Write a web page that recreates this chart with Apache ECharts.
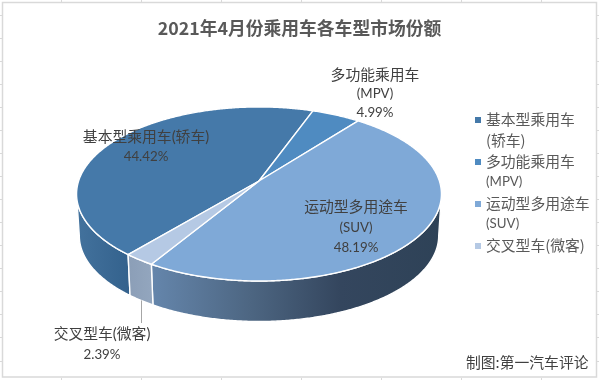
<!DOCTYPE html>
<html><head><meta charset="utf-8">
<style>html,body{margin:0;padding:0;background:#fff}#c{width:599px;height:380px}</style>
<script src="https://cdn.jsdelivr.net/npm/echarts@6/dist/echarts.min.js"></script>
</head><body><div id="c"></div>
<script>
const chartTitle = '2021年4月份乘用车各车型市场份额';
const credit = '制图:第一汽车评论';
const categories = ['基本型乘用车(轿车)', '多功能乘用车(MPV)', '运动型多用途车(SUV)', '交叉型车(微客)'];
const shares = [44.42, 4.99, 48.19, 2.39];
const nameLines = [['基本型乘用车(轿车)'], ['多功能乘用车', '(MPV)'], ['运动型多用途车', '(SUV)'], ['交叉型车(微客)']];
const legendLines = [['基本型乘用车', '(轿车)'], ['多功能乘用车', '(MPV)'], ['运动型多用途车', '(SUV)'], ['交叉型车(微客)', ' ']];
const topColors = ['#4579A9', '#4F8BC1', '#7FA9D7', '#B5C9E4'];
const firstAngle = 220;

// layout of the tilted disc (perspective model)
const geo = {cx: 259, cy: 181, A: 85.1, B: 180.4, k: 0.149, depth: 42, baseScale: 0.985};
const visibleFrom = 98.6, visibleTo = 261.4;
const wallStops = [
  [[76, '#43729D'], [128, '#34628D']],
  null,
  [[151, '#6586AC'], [250, '#4D6682'], [340, '#34465E'], [441, '#2E4257']],
  [[128, '#8B9EB7'], [152, '#93A6BE']]
];
const labelAnchors = [
  {x: 146, y: 137, gap: 20},
  {x: 375, y: 75, gap: 19},
  {x: 356, y: 207, gap: 20.5},
  {x: 102, y: 334, gap: 21}
];
const CJK = "'Noto Sans CJK SC'";
const nameFont = "14.8px Lato, " + CJK;
const asciiFont = "13.3px Lato, " + CJK;

const total = shares.reduce((a, b) => a + b, 0);
const spans = [];
shares.reduce((start, v) => { const end = start + v / total * 360; spans.push([start, end]); return end; }, firstAngle);

function project(deg, f, dy) {
  const t = deg * Math.PI / 180, s = Math.sin(t), c = -Math.cos(t), w = 1 - geo.k * c;
  return [geo.cx + geo.B * f * s / w, geo.cy + dy + geo.A * f * c / w];
}
function arc(a, b, f, dy) {
  const pts = [], n = Math.max(2, Math.ceil((b - a) * 2));
  for (let i = 0; i <= n; i++) pts.push(project(a + (b - a) * i / n, f, dy));
  return pts;
}
function overlap(a, b, lo, hi) {
  for (const off of [0, 360]) {
    const s = Math.max(a, lo + off), e = Math.min(b, hi + off);
    if (e > s) return [s, e];
  }
  return null;
}
function renderSlice(i) {
  const [a, b] = spans[i], children = [];
  const vis = overlap(a, b, visibleFrom, visibleTo);
  if (vis) {
    const topEdge = arc(vis[0], vis[1], 1, 0);
    const botEdge = arc(vis[0], vis[1], geo.baseScale, geo.depth).reverse();
    const st = wallStops[i] || [[0, topColors[i]], [1, topColors[i]]];
    const x0 = st[0][0], x1 = st[st.length - 1][0];
    children.push({type: 'polygon', shape: {points: topEdge.concat(botEdge)}, silent: true,
      style: {fill: {type: 'linear', global: true, x: x0, y: 0, x2: x1, y2: 0,
        colorStops: st.map(p => ({offset: (p[0] - x0) / (x1 - x0), color: p[1]}))},
        stroke: '#fff', lineWidth: 1.4, lineJoin: 'round'}});
  }
  children.push({type: 'polygon', shape: {points: [[geo.cx, geo.cy]].concat(arc(a, b, 1, 0))}, silent: true,
    style: {fill: topColors[i], stroke: '#fff', lineWidth: 1.4, lineJoin: 'round'}});
  if (i === 3) {
    const mid = project((a + b) / 2, geo.baseScale, geo.depth);
    children.push({type: 'line', silent: true, shape: {x1: Math.round(mid[0]) + 0.5, y1: mid[1], x2: Math.round(mid[0]) + 0.5, y2: 323},
      style: {stroke: '#A6A6A6', lineWidth: 1}});
  }
  const lines = nameLines[i].concat([shares[i].toFixed(2) + '%']), an = labelAnchors[i];
  lines.forEach((t, j) => children.push({type: 'text', silent: true, z2: 10,
    style: {text: t, x: an.x, y: an.y + j * an.gap, align: 'center', verticalAlign: 'middle',
      fill: '#404040', font: /^[\x00-\x7f]+$/.test(t) ? asciiFont : nameFont}}));
  return {type: 'group', children};
}

const deco = [{type: 'rect', silent: true, z: -1, shape: {x: 2.5, y: 2.5, width: 594, height: 374.5},
  style: {fill: '#fff', stroke: '#D9D9D9', lineWidth: 1.5}}];
const tick = (x1, y1, x2, y2) => deco.push({type: 'line', silent: true, z: -1, shape: {x1, y1, x2, y2}, style: {stroke: '#D9D9D9', lineWidth: 1}});
for (let y = 14.5; y < 370; y += 23.07) { const r = Math.round(y) + 0.5; tick(0, r, 2, r); tick(597, r, 599, r); }
for (let x = 61.5; x < 599; x += 80) { tick(x, 0, x, 2); tick(x, 378, x, 380); }
deco.push({type: 'text', silent: true, style: {text: credit, x: 466, y: 362, verticalAlign: 'middle', fill: '#404040', font: "14.8px " + CJK}});

const richStyles = {
  a: {fontFamily: CJK, fontSize: 14.8, lineHeight: 21, color: '#595959'},
  b: {fontFamily: 'Lato', fontSize: 13.3, lineHeight: 21, color: '#595959'}
};
const chart = echarts.init(document.getElementById('c'), null, {renderer: 'canvas'});
chart.setOption({
  animation: false,
  backgroundColor: '#fff',
  title: {text: chartTitle, left: 'center', top: 19, padding: 0,
    textStyle: {fontFamily: CJK, fontSize: 17.8, fontWeight: 'bold', color: '#595959'}},
  legend: {
    orient: 'vertical', left: 475, top: 108.5, padding: 0, itemGap: 0, selectedMode: false,
    itemWidth: 6, itemHeight: 42,
    icon: 'path://M0 0L0 0M0 8.5L6 8.5L6 14.5L0 14.5ZM0 42L0 42',
    data: categories,
    formatter: name => {
      const ls = legendLines[categories.indexOf(name)];
      return ls.map(l => /^[\x00-\x7f]+$/.test(l) ? '{b|' + l + '}' : '{a|' + l + '}').join('\n');
    },
    textStyle: {rich: richStyles}
  },
  graphic: deco,
  series: categories.map((name, i) => ({
    type: 'custom', name, coordinateSystem: 'none', clip: false,
    itemStyle: {color: topColors[i]}, silent: true,
    data: [[shares[i]]],
    renderItem: () => renderSlice(i)
  }))
});
</script></body></html>
